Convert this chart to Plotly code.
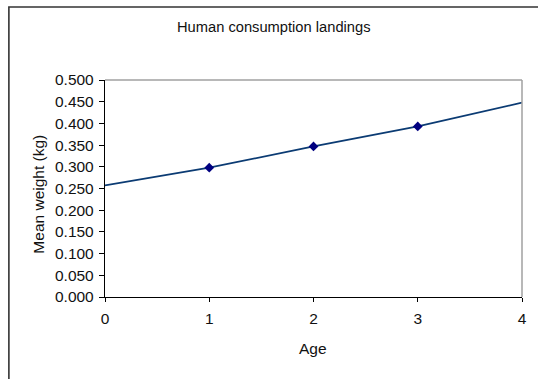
import plotly.graph_objects as go

# Data
line_ages = [0, 1, 2, 3, 4]
line_weight = [0.257, 0.298, 0.347, 0.393, 0.448]
marker_ages = [1, 2, 3]
marker_weight = [0.298, 0.347, 0.393]
x_ticks = [0, 1, 2, 3, 4]
y_ticks = [0.0, 0.05, 0.10, 0.15, 0.20, 0.25, 0.30, 0.35, 0.40, 0.45, 0.50]

FONT = "Liberation Sans, Arial, sans-serif"

W, H = 538, 379
L, R, T, B = 105, 11.3, 79.5, 82.3
pw = W - L - R
ph = H - T - B

def px_x(p):
    return (p - L) / pw

def px_y(p):
    return (H - B - p) / ph

fig = go.Figure()
fig.add_trace(go.Scatter(
    x=line_ages, y=line_weight, mode="lines",
    line=dict(color="#0b3b73", width=1.7),
    showlegend=False, hoverinfo="skip",
))
fig.add_trace(go.Scatter(
    x=marker_ages, y=marker_weight, mode="markers",
    marker=dict(symbol="diamond", size=7.5, color="#000080", line=dict(width=0)),
    showlegend=False,
))

fig.update_layout(
    width=W, height=H,
    margin=dict(l=L, r=R, t=T, b=B, pad=0),
    paper_bgcolor="white", plot_bgcolor="white",
    font=dict(family=FONT, size=15.5, color="black"),
    xaxis=dict(
        range=[0, 4], tickvals=x_ticks, ticktext=[str(v) for v in x_ticks],
        showline=True, linecolor="black", linewidth=1.3,
        ticks="outside", ticklen=4, tickwidth=1.3, tickcolor="black",
        ticklabelstandoff=3,
        showgrid=False, zeroline=False, fixedrange=True,
        tickfont=dict(family=FONT, size=15.5, color="#111111"),
    ),
    yaxis=dict(
        range=[0, 0.5], tickvals=y_ticks, ticktext=[f"{v:.3f}" for v in y_ticks],
        showline=True, linecolor="black", linewidth=1.3,
        ticks="outside", ticklen=5, tickwidth=1.3, tickcolor="black",
        ticklabelstandoff=2,
        showgrid=False, zeroline=False, fixedrange=True,
        tickfont=dict(family=FONT, size=15.5, color="#111111"),
    ),
    shapes=[
        dict(type="line", xref="paper", yref="paper", x0=0, x1=1, y0=1, y1=1,
             line=dict(color="#a0a0a0", width=1.5)),
        dict(type="line", xref="paper", yref="paper", x0=1, x1=1, y0=0, y1=1,
             line=dict(color="#a0a0a0", width=1.5)),
        dict(type="rect", xref="paper", yref="paper",
             x0=px_x(7.8), x1=px_x(W + 20), y0=px_y(H + 20), y1=px_y(6.5),
             line=dict(color="#333333", width=1.6), fillcolor="rgba(0,0,0,0)"),
    ],
    annotations=[
        dict(text="Human consumption landings", xref="paper", yref="paper",
             x=px_x(276.3), y=px_y(26.7), xanchor="center", yanchor="middle",
             showarrow=False, font=dict(family=FONT, size=14.7, color="#111111")),
        dict(text="Age", xref="paper", yref="paper",
             x=px_x(315.5), y=px_y(348), xanchor="center", yanchor="middle",
             showarrow=False, font=dict(family=FONT, size=15.5, color="#111111")),
        dict(text="Mean weight (kg)", xref="paper", yref="paper",
             x=px_x(37.5), y=px_y(194), xanchor="center", yanchor="middle",
             textangle=-90, showarrow=False,
             font=dict(family=FONT, size=15.5, color="#111111")),
    ],
)

fig.write_html("out.html", config={"displayModeBar": False})
